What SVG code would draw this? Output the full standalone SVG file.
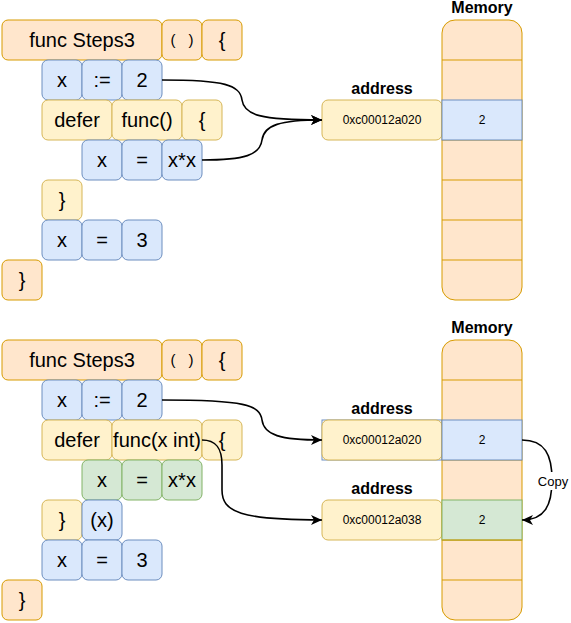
<svg xmlns="http://www.w3.org/2000/svg" width="571" height="623" viewBox="0 0 571 623">
<style>
.o{fill:#ffe6cc;stroke:#d79b00;stroke-width:1}
.y{fill:#fff2cc;stroke:#d6b656;stroke-width:1}
.b{fill:#dae8fc;stroke:#6c8ebf;stroke-width:1}
.g{fill:#d5e8d4;stroke:#82b366;stroke-width:1}
text{font-family:"Liberation Sans",Arial,sans-serif;fill:#000;text-anchor:middle}
.c{font-size:20px}
.p{font-size:15px}
.s{font-size:12px}
.h{font-size:16px;font-weight:bold}
.k{font-size:13px}
.e{fill:none;stroke:#000;stroke-width:1.6}
.ml{stroke:#d79b00;stroke-width:1;fill:none}
</style>
<defs>
<marker id="a" markerUnits="userSpaceOnUse" markerWidth="12" markerHeight="10" refX="11" refY="5" orient="auto" viewBox="0 0 12 10">
<path d="M0,0 L11,5 L0,10 L3,5 Z" fill="#000"/>
</marker>
</defs>

<!-- TOP -->
<g id="t-func"><rect class="o" x="2" y="20" width="160" height="40" rx="6"/><text class="c" x="82" y="47">func Steps3</text></g>
<g id="t-paren"><rect class="o" x="162" y="20" width="40" height="40" rx="6"/><text class="p" x="173" y="45">(</text><text class="p" x="191" y="45">)</text></g>
<g id="t-ob"><rect class="o" x="202" y="20" width="40" height="40" rx="6"/><text class="c" x="222" y="47">{</text></g>
<g id="t-x1"><rect class="b" x="42" y="60" width="40" height="40" rx="6"/><text class="c" x="62" y="87">x</text></g>
<g id="t-as1"><rect class="b" x="82" y="60" width="40" height="40" rx="6"/><text class="c" x="102" y="87">:=</text></g>
<g id="t-v2"><rect class="b" x="122" y="60" width="40" height="40" rx="6"/><text class="c" x="142" y="87">2</text></g>
<g id="t-defer"><rect class="y" x="42" y="100" width="70" height="40" rx="6"/><text class="c" x="77" y="127">defer</text></g>
<g id="t-fn"><rect class="y" x="112" y="100" width="70" height="40" rx="6"/><text class="c" x="147" y="127">func()</text></g>
<g id="t-ob2"><rect class="y" x="182" y="100" width="40" height="40" rx="6"/><text class="c" x="202" y="127">{</text></g>
<g id="t-x2"><rect class="b" x="82" y="140" width="40" height="40" rx="6"/><text class="c" x="102" y="167">x</text></g>
<g id="t-eq2"><rect class="b" x="122" y="140" width="40" height="40" rx="6"/><text class="c" x="142" y="167">=</text></g>
<g id="t-xx"><rect class="b" x="162" y="140" width="40" height="40" rx="6"/><text class="c" x="182" y="167">x*x</text></g>
<g id="t-cb2"><rect class="y" x="42" y="180" width="40" height="40" rx="6"/><text class="c" x="62" y="207">}</text></g>
<g id="t-x3"><rect class="b" x="42" y="220" width="40" height="40" rx="6"/><text class="c" x="62" y="247">x</text></g>
<g id="t-eq3"><rect class="b" x="82" y="220" width="40" height="40" rx="6"/><text class="c" x="102" y="247">=</text></g>
<g id="t-v3"><rect class="b" x="122" y="220" width="40" height="40" rx="6"/><text class="c" x="142" y="247">3</text></g>
<g id="t-cb"><rect class="o" x="2" y="260" width="40" height="40" rx="6"/><text class="c" x="22" y="287">}</text></g>

<g id="t-addr"><text class="h" x="382" y="94">address</text><rect class="y" x="322" y="100" width="120" height="40" rx="6"/><text class="s" x="382" y="124">0xc00012a020</text></g>
<g id="t-mem">
<text class="h" x="482" y="13">Memory</text>
<rect class="o" x="442" y="20" width="80" height="280" rx="13"/>
<path class="ml" d="M442,60H522M442,140H522M442,180H522M442,220H522M442,260H522"/>
<rect class="b" x="442" y="100" width="80" height="40"/>
<text class="s" x="482" y="124">2</text>
</g>

<!-- BOTTOM -->
<g id="b-func"><rect class="o" x="2" y="340" width="160" height="40" rx="6"/><text class="c" x="82" y="367">func Steps3</text></g>
<g id="b-paren"><rect class="o" x="162" y="340" width="40" height="40" rx="6"/><text class="p" x="173" y="365">(</text><text class="p" x="191" y="365">)</text></g>
<g id="b-ob"><rect class="o" x="202" y="340" width="40" height="40" rx="6"/><text class="c" x="222" y="367">{</text></g>
<g id="b-x1"><rect class="b" x="42" y="380" width="40" height="40" rx="6"/><text class="c" x="62" y="407">x</text></g>
<g id="b-as1"><rect class="b" x="82" y="380" width="40" height="40" rx="6"/><text class="c" x="102" y="407">:=</text></g>
<g id="b-v2"><rect class="b" x="122" y="380" width="40" height="40" rx="6"/><text class="c" x="142" y="407">2</text></g>
<g id="b-defer"><rect class="y" x="42" y="420" width="70" height="40" rx="6"/><text class="c" x="77" y="447">defer</text></g>
<g id="b-fn"><rect class="y" x="112" y="420" width="90" height="40" rx="6"/><text class="c" x="157" y="447">func(x int)</text></g>
<g id="b-ob2"><rect class="y" x="202" y="420" width="40" height="40" rx="6"/><text class="c" x="222" y="447">{</text></g>
<g id="b-x2"><rect class="g" x="82" y="460" width="40" height="40" rx="6"/><text class="c" x="102" y="487">x</text></g>
<g id="b-eq2"><rect class="g" x="122" y="460" width="40" height="40" rx="6"/><text class="c" x="142" y="487">=</text></g>
<g id="b-xx"><rect class="g" x="162" y="460" width="40" height="40" rx="6"/><text class="c" x="182" y="487">x*x</text></g>
<g id="b-cb2"><rect class="y" x="42" y="500" width="40" height="40" rx="6"/><text class="c" x="62" y="527">}</text></g>
<g id="b-arg"><rect class="b" x="82" y="500" width="40" height="40" rx="6"/><text class="c" x="102" y="527">(x)</text></g>
<g id="b-x3"><rect class="b" x="42" y="540" width="40" height="40" rx="6"/><text class="c" x="62" y="567">x</text></g>
<g id="b-eq3"><rect class="b" x="82" y="540" width="40" height="40" rx="6"/><text class="c" x="102" y="567">=</text></g>
<g id="b-v3"><rect class="b" x="122" y="540" width="40" height="40" rx="6"/><text class="c" x="142" y="567">3</text></g>
<g id="b-cb"><rect class="o" x="2" y="580" width="40" height="40" rx="6"/><text class="c" x="22" y="607">}</text></g>

<g id="b-addr1"><text class="h" x="382" y="414">address</text><rect x="322" y="420" width="120" height="40" fill="none" stroke="#6c8ebf"/><rect class="y" x="322" y="420" width="120" height="40" rx="6"/><text class="s" x="382" y="444">0xc00012a020</text></g>
<g id="b-addr2"><text class="h" x="382" y="494">address</text><rect class="y" x="322" y="500" width="120" height="40" rx="6"/><text class="s" x="382" y="524">0xc00012a038</text></g>
<g id="b-mem">
<text class="h" x="482" y="333">Memory</text>
<rect class="o" x="442" y="340" width="80" height="280" rx="13"/>
<path class="ml" d="M442,380H522M442,460H522M442,540H522M442,580H522"/>
<rect class="b" x="442" y="420" width="80" height="40"/>
<rect class="g" x="442" y="500" width="80" height="40"/>
<path class="ml" d="M442,540H522"/>
<text class="s" x="482" y="444">2</text>
<text class="s" x="482" y="524">2</text>
</g>

<g id="connectors">
<path class="e" marker-end="url(#a)" d="M162,80 C225,80 240,85 242,100 C244,115 260,120 322,120"/>
<path class="e" marker-end="url(#a)" d="M202,160 C245,160 260,155 262,140 C264,125 280,120 322,120"/>
<path class="e" marker-end="url(#a)" d="M162,400 C245,400 260,405 262,420 C264,435 280,440 322,440"/>
<path class="e" marker-end="url(#a)" d="M202,440 C216,440 222,448 222,465 L222,490 C222,512 240,520 322,520"/>
<path class="e" marker-end="url(#a)" d="M522,440 C545,440 552,455 552,480 C552,505 545,520 522,520"/>
<rect x="537" y="472" width="32" height="18" fill="#fff"/>
<text class="k" x="553" y="486">Copy</text>
</g>
</svg>
